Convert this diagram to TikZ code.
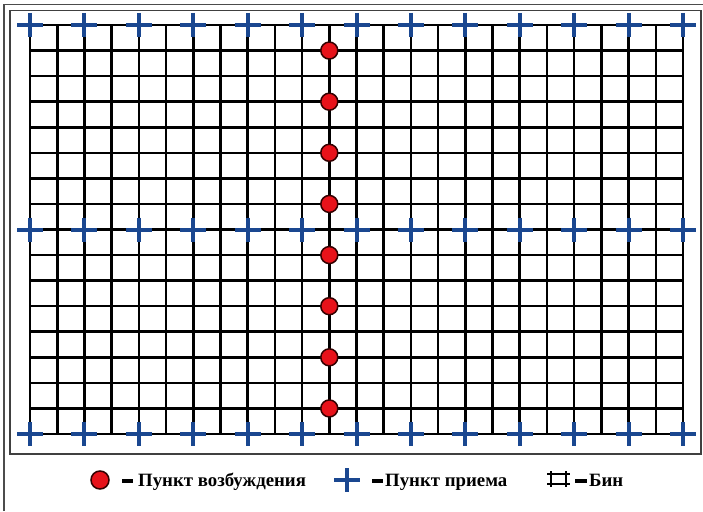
\documentclass[tikz,border=0pt]{standalone}
\usepackage{fontspec}
\setmainfont{Liberation Serif}
\definecolor{rcvblue}{HTML}{1A4790}
\definecolor{srcred}{HTML}{E8121A}
\begin{document}
\begin{tikzpicture}[x=1pt,y=-1pt,
  gridline/.style={line width=2.6pt,black},
  rcv/.style={line width=4pt,rcvblue},
  src/.style={circle, fill=srcred, draw=black!80!red, line width=1.5pt, minimum size=17pt, inner sep=0pt},
  legtext/.style={font=\bfseries\fontsize{18.8}{22}\selectfont, anchor=base west, inner sep=0pt},
  legdash/.style={line width=4pt},
  rcvmark/.pic={\draw[rcv] (-13,0) -- (13,0) (0,-12) -- (0,12);}]
\useasboundingbox (0,0) rectangle (703,511);
\fill[white] (0,0) rectangle (703,511);
\draw[line width=1.5pt, black!70] (4,511) -- (4,4.5) -- (703,4.5);
\draw[line width=1.5pt, black!75] (10,10.5) rectangle (701,454);
\foreach \i in {0,...,24} \draw[gridline] ({30+\i*653/24},25) -- ({30+\i*653/24},434);
\foreach \j in {0,...,16} \draw[gridline] (30,{25+\j*409/16}) -- (683,{25+\j*409/16});
\foreach \k in {0,...,12} {
  \foreach \yy in {25,229.5,434} {
    \pic at ({30+\k*653/12},\yy) {rcvmark};
  }
}
\foreach \j in {1,3,...,15} \node[src] (s\j) at ({30+11*653/24},{25+\j*409/16}) {};
% legend
\node[src, minimum size=18pt] (lsrc) at (100,480) {};
\draw[legdash] (122,481) -- (133,481);
\node[legtext] (t1) at (138,486) {Пункт возбуждения};
\pic at (347,480) {rcvmark};
\draw[legdash] (372,481) -- (383,481);
\node[legtext] (t2) at (385,486) {Пункт приема};
\draw[line width=1.3pt] (547,474) -- (570,474) (547,484) -- (570,484) (551,471) -- (551,487) (566,471) -- (566,487);
\draw[legdash] (575,481) -- (587,481);
\node[legtext] (t3) at (589,486) {Бин};
\end{tikzpicture}
\end{document}
